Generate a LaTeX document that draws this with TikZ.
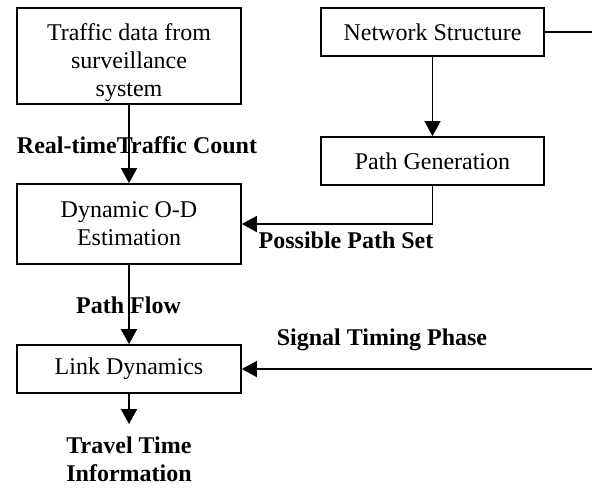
\documentclass[tikz,border=0pt]{standalone}
\usepackage{fontspec}
\setmainfont{Liberation Serif}
\usetikzlibrary{arrows.meta}
\begin{document}
\begin{tikzpicture}[x=1pt,y=-1pt,
  every node/.style={font=\fontsize{24}{28}\selectfont},
  procbox/.style={draw,line width=1.8pt,rectangle,inner sep=0pt,align=center},
  lbl/.style={font=\fontsize{24}{28}\selectfont\bfseries,inner sep=0pt,anchor=base,align=center},
  conn/.style={line width=1.8pt},
  arr/.style={conn,-{Triangle[width=16pt,length=15pt]}}]
\useasboundingbox (0,0) rectangle (592,490);
\node[procbox,minimum width=224pt,minimum height=96pt] (traffic) at (129,56) {};
\node[inner sep=0pt,align=center] (traffictext) at (129,63) {Traffic data from\\surveillance\\system};
\node[procbox,minimum width=224pt,minimum height=80pt] (od) at (129,224) {Dynamic O-D\\Estimation};
\node[procbox,minimum width=224pt,minimum height=48pt] (link) at (129,369) {Link Dynamics};
\node[procbox,minimum width=223pt,minimum height=48pt] (net) at (432.5,32) {Network Structure};
\node[procbox,minimum width=223pt,minimum height=48pt] (path) at (432.5,161) {Path Generation};
\coordinate (netend) at (592,32);
\coordinate (sigstart) at (592,369);
\coordinate (bend) at (432.5,224);
\coordinate (travelend) at (129,424);
\draw[arr] (traffic.south) -- (od.north);
\draw[arr] (od.south) -- (link.north);
\draw[arr] (net.south) -- (path.north);
\draw[arr] (path.south) -- (bend) -- (od.east);
\draw[conn] (net.east) -- (netend);
\draw[arr] (sigstart) -- (link.east);
\draw[arr] (link.south) -- (travelend);
\node[lbl] (lrt) at (137,153) {Real-timeTraffic Count};
\node[lbl] (lpf) at (128.5,313) {Path Flow};
\node[lbl] (lpp) at (346,248) {Possible Path Set};
\node[lbl] (lsig) at (382,345) {Signal Timing Phase};
\node[lbl,anchor=north] (ltt) at (129,437) {Travel Time\\Information};
\end{tikzpicture}
\end{document}
